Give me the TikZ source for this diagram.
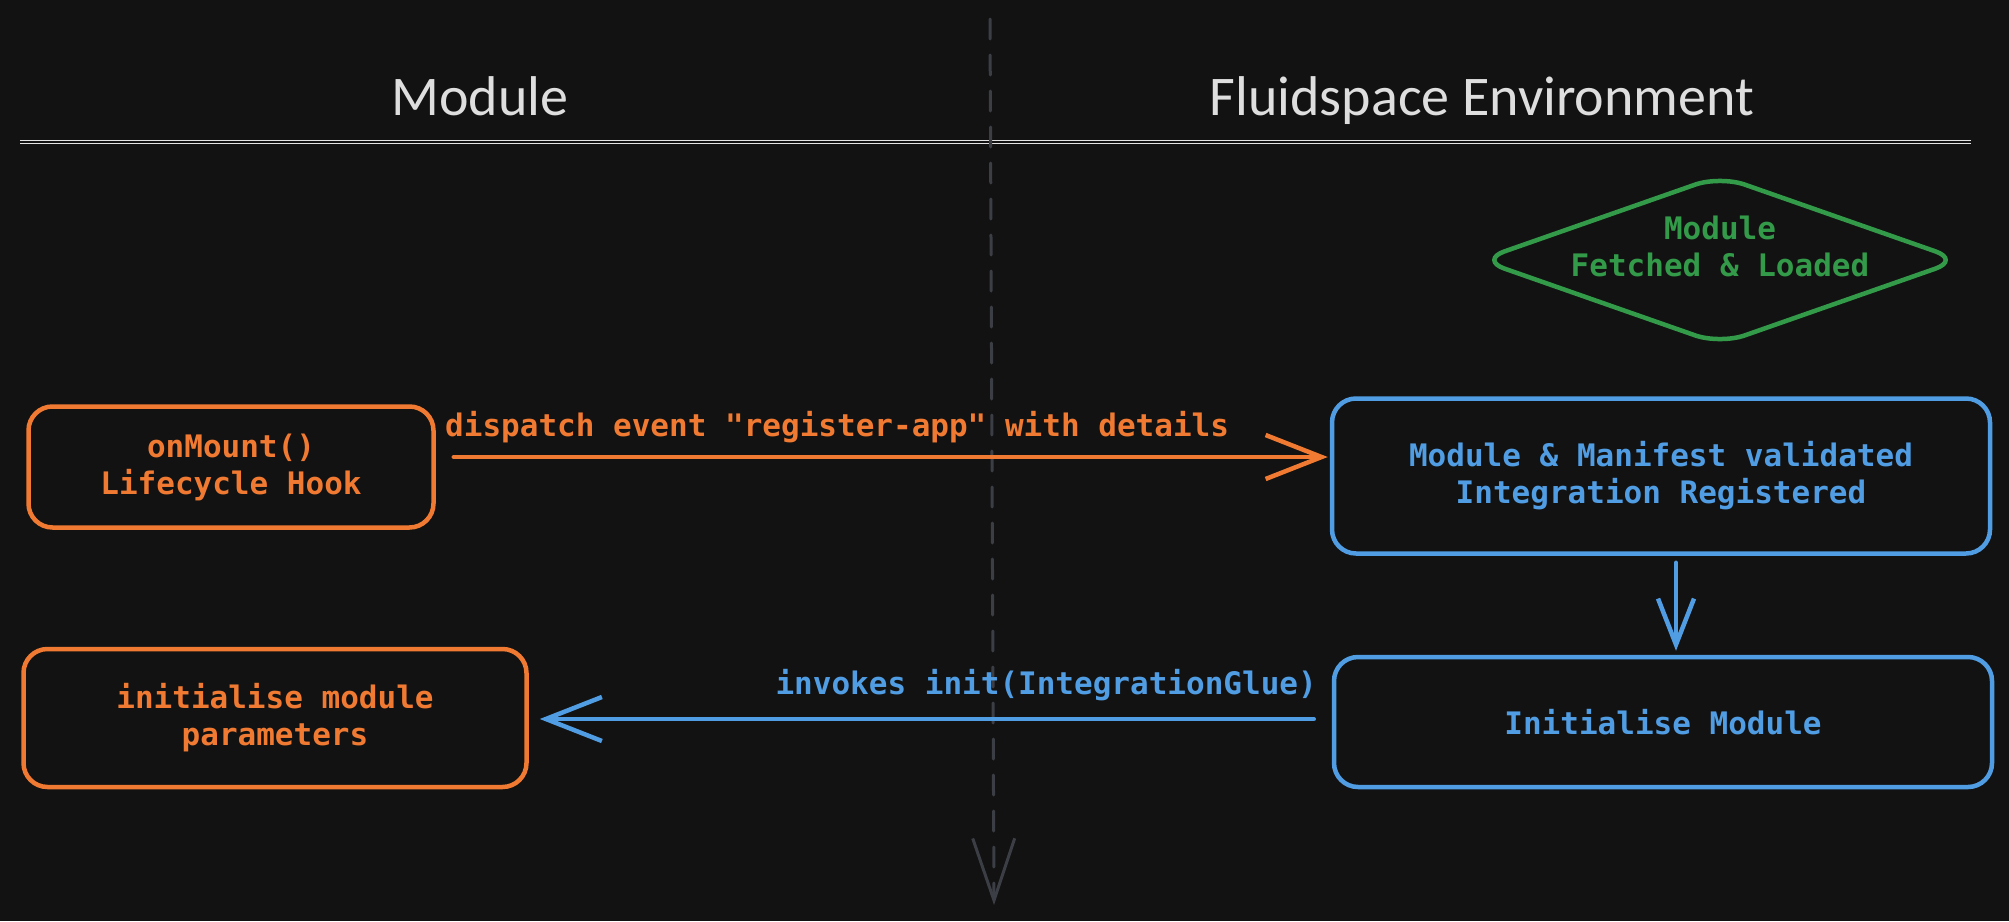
\documentclass[tikz,border=0pt]{standalone}
\usepackage{fontspec}
\usepackage{xcolor}
\usepackage{tikz}
\usetikzlibrary{positioning, arrows.meta, shapes.geometric, calc}
\newfontfamily\codefont{DejaVu Sans Mono}
\newfontfamily\handfont{Carlito}
\definecolor{bgdark}{RGB}{18, 18, 18}
\definecolor{modorange}{RGB}{240, 122, 50}
\definecolor{envblue}{RGB}{80, 157, 228}
\definecolor{loadgreen}{RGB}{50, 154, 72}
\definecolor{lanegray}{RGB}{60, 62, 70}
\definecolor{hdrgray}{RGB}{222, 222, 222}
\tikzset{
  proc/.style={
    draw, line width=4.5pt, rounded corners=24pt,
    align=center, inner sep=0pt,
    font=\codefont\bfseries\fontsize{31}{37}\selectfont,
  },
  modbox/.style={proc, draw=modorange, text=modorange},
  envbox/.style={proc, draw=envblue, text=envblue},
  lbl/.style={font=\codefont\bfseries\fontsize{31}{37}\selectfont, inner sep=0pt},
  hdr/.style={font=\handfont\fontsize{56}{60}\selectfont, text=hdrgray, inner sep=0pt},
  flow/.style={line width=4.5pt, line cap=round, -{Straight Barb[length=56pt, width=44pt]}},
  lane/.style={draw=lanegray, line width=3pt, line cap=round,
    dash pattern=on 20pt off 16pt, -{Straight Barb[length=62pt, width=42pt]}},
}

\begin{document}
\begin{tikzpicture}[x=1pt, y=-1pt]

\fill[bgdark] (0,0) rectangle (2009,921);

% lanes
\node[hdr, anchor=base] (modhdr) at (480,115) {Module};
\node[hdr, anchor=base] (envhdr) at (1482,115) {Fluidspace Environment};
\coordinate (hdrleft) at (20,142);
\coordinate (hdrright) at (1971,142);
\draw[draw=hdrgray!85, line width=1.5pt, double=bgdark, double distance=1.5pt] (hdrleft) -- (hdrright);
\coordinate (lanetop) at (990,19);
\coordinate (lanebot) at (994,905);
\draw[lane] (lanetop) -- (lanebot);

% steps
\node[diamond, draw=loadgreen, line width=4.5pt, aspect=2.9,
      rounded corners=26pt, inner sep=0pt, minimum width=482pt, minimum height=170pt] (fetched) at (1720,260) {};
\node[lbl, text=loadgreen, align=center] (fetchedtxt) at ([yshift=14pt]fetched.center) {Module\\Fetched \& Loaded};
\node[modbox, minimum width=405pt, minimum height=121pt] (mount) at (231,467) {onMount()\\Lifecycle Hook};
\node[envbox, minimum width=658pt, minimum height=155pt] (valid) at (1661,476)
      {Module \& Manifest validated\\Integration Registered};
\node[envbox, minimum width=658pt, minimum height=130pt] (initmod) at (1663,722) {Initialise Module};
\node[modbox, minimum width=503pt, minimum height=138pt] (params) at (275,718)
      {initialise module\\parameters};

\node[lbl, text=modorange, anchor=west] (dispatch) at (445,427) {dispatch event "register-app" with details};
\node[lbl, text=envblue, anchor=east] (invokes) at (1317,685) {invokes init(IntegrationGlue)};

\draw[flow, modorange] ([xshift=18pt, yshift=10pt]mount.east) -- ([xshift=-2pt, yshift=19pt]valid.west);
\draw[flow, envblue, -{Straight Barb[length=46pt, width=36pt]}] ([xshift=15pt, yshift=-7pt]valid.south) -- ([xshift=13pt, yshift=4pt]initmod.north);
\draw[flow, envblue] ([xshift=-18pt, yshift=3pt]initmod.west) -- ([xshift=11pt, yshift=-1pt]params.east);

\end{tikzpicture}
\end{document}
